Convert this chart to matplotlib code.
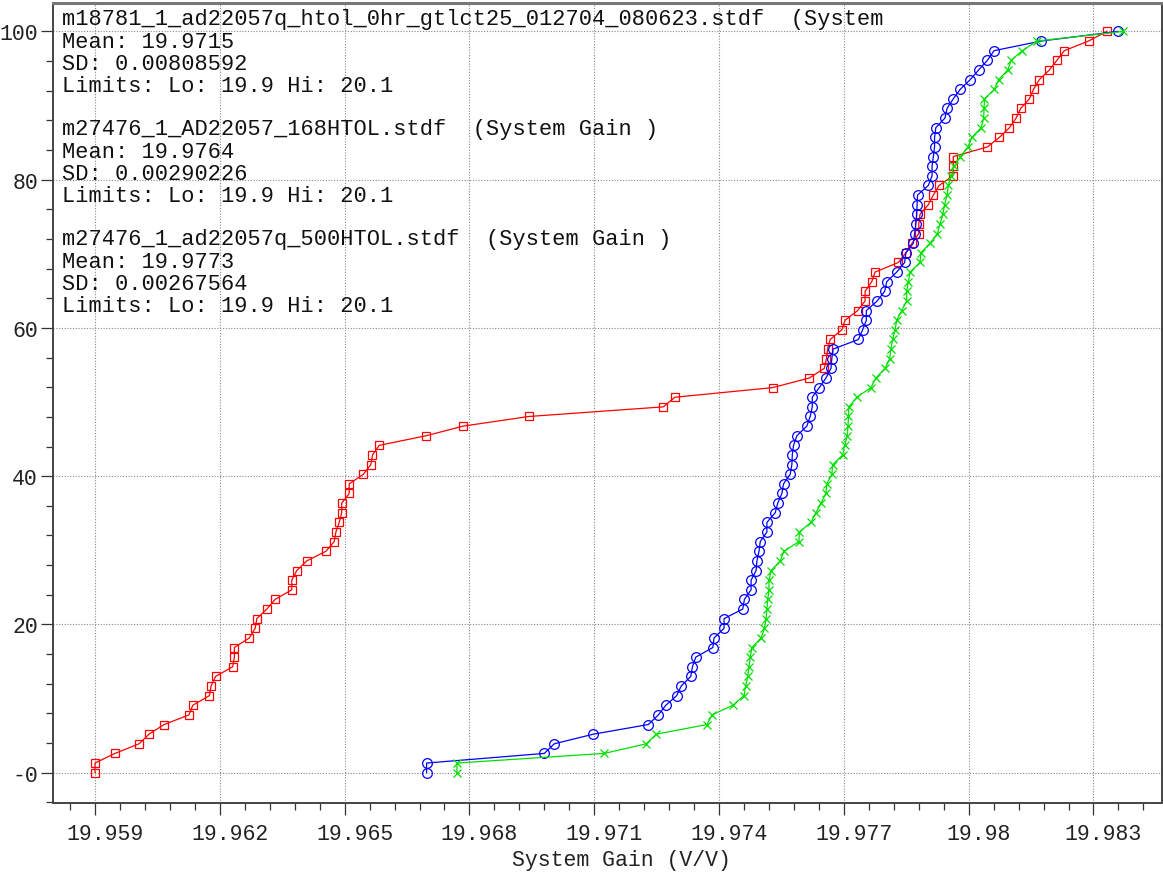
import numpy as np
import matplotlib.pyplot as plt
from matplotlib.ticker import FixedLocator, MultipleLocator
from matplotlib.transforms import ScaledTranslation

# System Gain (V/V) readings per lot, already sorted
gain_0hr = [19.95900, 19.95900, 19.95948, 19.96006, 19.96030, 19.96066, 19.96126, 19.96135,
            19.96175, 19.96179, 19.96190, 19.96231, 19.96235, 19.96235, 19.96271, 19.96285,
            19.96289, 19.96313, 19.96333, 19.96373, 19.96373, 19.96385, 19.96409, 19.96455,
            19.96475, 19.96479, 19.96487, 19.96493, 19.96493, 19.96511, 19.96511, 19.96545,
            19.96563, 19.96567, 19.96583, 19.96696, 19.96785, 19.96943, 19.97266, 19.97294,
            19.97529, 19.97617, 19.97653, 19.97658, 19.97661, 19.97667, 19.97695, 19.97703,
            19.97733, 19.97751, 19.97751, 19.97767, 19.97775, 19.97831, 19.97849, 19.97864,
            19.97880, 19.97880, 19.97883, 19.97903, 19.97915, 19.97929, 19.97962, 19.97963,
            19.97963, 19.98045, 19.98074, 19.98098, 19.98114, 19.98125, 19.98146, 19.98156,
            19.98170, 19.98194, 19.98212, 19.98230, 19.98288, 19.98332]
gain_168hr = [19.96697, 19.96697, 19.96980, 19.97004, 19.97098, 19.97230, 19.97254, 19.97272,
              19.97298, 19.97309, 19.97332, 19.97336, 19.97344, 19.97385, 19.97388, 19.97412,
              19.97412, 19.97457, 19.97461, 19.97477, 19.97477, 19.97489, 19.97491, 19.97496,
              19.97499, 19.97515, 19.97515, 19.97535, 19.97541, 19.97551, 19.97555, 19.97571,
              19.97575, 19.97576, 19.97579, 19.97587, 19.97611, 19.97619, 19.97624, 19.97624,
              19.97641, 19.97657, 19.97669, 19.97671, 19.97674, 19.97735, 19.97745, 19.97754,
              19.97754, 19.97780, 19.97798, 19.97803, 19.97827, 19.97846, 19.97849, 19.97867,
              19.97870, 19.97873, 19.97875, 19.97876, 19.97877, 19.97903, 19.97912, 19.97912,
              19.97915, 19.97918, 19.97918, 19.97921, 19.97943, 19.97948, 19.97963, 19.97980,
              19.98004, 19.98024, 19.98045, 19.98061, 19.98174, 19.98359]
gain_500hr = [19.96770, 19.96770, 19.97124, 19.97225, 19.97249, 19.97371, 19.97383, 19.97433,
              19.97460, 19.97464, 19.97469, 19.97472, 19.97475, 19.97479, 19.97501, 19.97509,
              19.97513, 19.97515, 19.97517, 19.97520, 19.97520, 19.97525, 19.97547, 19.97556,
              19.97592, 19.97593, 19.97621, 19.97633, 19.97645, 19.97657, 19.97659, 19.97671,
              19.97673, 19.97697, 19.97702, 19.97708, 19.97710, 19.97711, 19.97712, 19.97731,
              19.97765, 19.97777, 19.97799, 19.97810, 19.97813, 19.97817, 19.97823, 19.97827,
              19.97839, 19.97851, 19.97851, 19.97855, 19.97859, 19.97883, 19.97885, 19.97907,
              19.97925, 19.97931, 19.97938, 19.97942, 19.97948, 19.97951, 19.97958, 19.97965,
              19.97980, 19.97998, 19.98008, 19.98030, 19.98036, 19.98037, 19.98038, 19.98062,
              19.98072, 19.98094, 19.98102, 19.98129, 19.98164, 19.98372]

x_ticks = [19.959, 19.962, 19.965, 19.968, 19.971, 19.974, 19.977, 19.98, 19.983]
x_labels = ["19.959", "19.962", "19.965", "19.968", "19.971", "19.974", "19.977", "19.98", "19.983"]
y_ticks = [0, 20, 40, 60, 80, 100]
y_labels = ["-0", "20", "40", "60", "80", "100"]

summary_lines = [
    "m18781_1_ad22057q_htol_0hr_gtlct25_012704_080623.stdf  (System",
    "Mean: 19.9715",
    "SD: 0.00808592",
    "Limits: Lo: 19.9 Hi: 20.1",
    "",
    "m27476_1_AD22057_168HTOL.stdf  (System Gain )",
    "Mean: 19.9764",
    "SD: 0.00290226",
    "Limits: Lo: 19.9 Hi: 20.1",
    "",
    "m27476_1_ad22057q_500HTOL.stdf  (System Gain )",
    "Mean: 19.9773",
    "SD: 0.00267564",
    "Limits: Lo: 19.9 Hi: 20.1",
]

plt.rcParams['font.family'] = ['Liberation Mono', 'DejaVu Sans Mono']

fig = plt.figure(figsize=(11.63, 8.78), dpi=100)
ax = fig.add_axes([0.0453, 0.0843, 0.954, 0.9117])


def cum_percent(vals):
    # percentile position of each sorted reading
    n = len(vals)
    return np.arange(n) / (n - 1) * 100


ax.plot(gain_0hr, cum_percent(gain_0hr), color='#ff0000', lw=0.9, marker='s',
        ms=6, mfc='none', mec='#ff0000', mew=0.9)
ax.plot(gain_168hr, cum_percent(gain_168hr), color='#0000ff', lw=0.9, marker='o',
        ms=7, mfc='none', mec='#0000ff', mew=0.9)
ax.plot(gain_500hr, cum_percent(gain_500hr), color='#00e000', lw=0.9, marker='x',
        ms=6, mec='#00e000', mew=0.9)

ax.set_xlim(19.957983, 19.984651)
ax.set_ylim(-4.09, 103.9)

ax.xaxis.set_major_locator(FixedLocator(x_ticks))
ax.set_xticklabels(x_labels)
ax.xaxis.set_minor_locator(MultipleLocator(0.0006))
ax.yaxis.set_major_locator(FixedLocator(y_ticks))
ax.set_yticklabels(y_labels)
ax.yaxis.set_minor_locator(MultipleLocator(4))

ax.tick_params(which='major', direction='out', length=8.6, width=0.9, color='#333333',
               labelsize=15.5, labelcolor='#222222')
ax.tick_params(which='minor', direction='out', length=5, width=0.9, color='#333333')
ax.tick_params(axis='x', which='major', pad=6)
ax.tick_params(axis='y', which='major', pad=2)

shift = ScaledTranslation(0.10, 0, fig.dpi_scale_trans)
for lab in ax.get_xticklabels():
    lab.set_transform(lab.get_transform() + shift)

ax.grid(True, which='major', color='#888888', ls=(0, (1, 1.5)), lw=0.8)
ax.set_axisbelow(True)

for side in ['left', 'bottom', 'right']:
    ax.spines[side].set_color('#444444')
    ax.spines[side].set_linewidth(1.4)
ax.spines['top'].set_color('#777777')
ax.spines['top'].set_linewidth(2.2)

ax.set_xlabel("System Gain (V/V)", fontsize=15.5, color='#222222')
ax.xaxis.set_label_coords(0.513, -0.0712)
ax.xaxis.label.set_va('center')

# per-file statistics block in the upper left
for i, line in enumerate(summary_lines):
    if line:
        fig.text(62 / 1163, 1 - (20 + 22 * i) / 878, line, fontsize=15.8,
                 color='#111111', ha='left', va='center')

plt.savefig("out.png", dpi=100)
